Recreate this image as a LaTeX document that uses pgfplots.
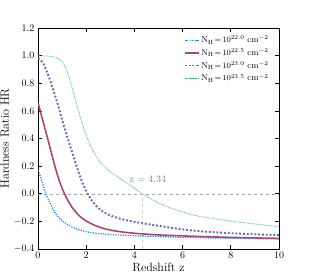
\documentclass[border=0pt]{standalone}
\usepackage{pgfplots}
\pgfplotsset{compat=1.18}
\definecolor{cblue}{HTML}{1E8CE0}
\definecolor{cmag}{HTML}{A8487A}
\definecolor{cpur}{HTML}{6C64B4}
\definecolor{cteal}{HTML}{40B0A0}
\begin{document}
\begin{tikzpicture}
\begin{axis}[
  scale only axis, width=241pt, height=221pt,
  xmin=0, xmax=10, ymin=-0.4, ymax=1.2,
  xtick={0,2,4,6,8,10}, ytick={-0.4,-0.2,0,0.2,0.4,0.6,0.8,1.0,1.2},
  yticklabel style={/pgf/number format/.cd, fixed, fixed zerofill, precision=1},
  tick align=inside, major tick length=4pt, minor tick num=0,
  axis line style={line width=0.8pt},
  tick style={line width=0.7pt, black},
  xlabel={\large Redshift z}, ylabel={\large Hardness Ratio HR},
  xlabel style={yshift=3pt}, ylabel style={yshift=-2pt},
  legend style={draw=none, fill=none, at={(0.97,0.978)}, anchor=north east,
    font=\fontsize{8.5}{10}\selectfont, row sep=0.5pt, inner sep=1pt},
  legend cell align=left,
  legend image post style={xscale=0.8},
]
\addplot[gray!70, dashed, line width=0.5pt, forget plot] coordinates {(0,0) (10,0)};
\addplot[gray!40, dashed, line width=0.8pt, forget plot] coordinates {(4.34,-0.4) (4.34,0)};
\addplot[cblue, line width=1.3pt, dash pattern=on 1.2pt off 1.3pt, smooth] coordinates {
(0,0.17) (0.15,0.10) (0.33,0.0) (0.55,-0.085) (0.75,-0.147) (1.0,-0.195) (1.3,-0.23) (1.6,-0.255) (2.0,-0.275) (2.5,-0.288) (3.0,-0.295) (4.0,-0.304) (5.0,-0.31) (6.0,-0.315) (7.0,-0.319) (8.5,-0.323) (10,-0.327)};
\addlegendentry{N$_{\rm H}\!=\!10^{22.0}$\ cm$^{-2}$}
\addplot[cmag, line width=1.6pt, smooth] coordinates {
(0,0.66) (0.2,0.53) (0.4,0.40) (0.6,0.265) (0.8,0.14) (1.0,0.04) (1.2,-0.035) (1.4,-0.095) (1.7,-0.158) (2.0,-0.197) (2.4,-0.232) (2.8,-0.255) (3.3,-0.272) (4.0,-0.286) (5.0,-0.298) (6.0,-0.305) (7.0,-0.311) (8.5,-0.318) (10,-0.323)};
\addlegendentry{N$_{\rm H}\!=\!10^{22.5}$\ cm$^{-2}$}
\addplot[cpur, line width=1.9pt, dash pattern=on 1.9pt off 1.9pt, smooth] coordinates {
(0,0.98) (0.2,0.95) (0.4,0.87) (0.6,0.77) (0.8,0.66) (1.0,0.535) (1.2,0.42) (1.4,0.31) (1.6,0.20) (1.8,0.10) (2.0,0.02) (2.2,-0.04) (2.4,-0.085) (2.6,-0.118) (2.8,-0.14) (3.0,-0.157) (3.5,-0.185) (4.0,-0.203) (4.5,-0.218) (5.0,-0.232) (6.0,-0.258) (7.0,-0.275) (8.5,-0.29) (10,-0.30)};
\addlegendentry{N$_{\rm H}\!=\!10^{23.0}$\ cm$^{-2}$}
\addplot[cteal, line width=0.9pt, dash pattern=on 0.5pt off 0.8pt, smooth] coordinates {
(0,1.0) (0.4,0.997) (0.7,0.99) (0.85,0.98) (1.0,0.958) (1.1,0.93) (1.2,0.89) (1.3,0.838) (1.4,0.777) (1.5,0.712) (1.6,0.648) (1.8,0.527) (2.0,0.423) (2.2,0.34) (2.4,0.275) (2.6,0.225) (2.8,0.19) (3.0,0.16) (3.25,0.128) (3.5,0.098) (3.75,0.069) (4.0,0.04) (4.34,0.0) (4.5,-0.018) (5.0,-0.066) (5.5,-0.103) (6.0,-0.132) (6.5,-0.156) (7.0,-0.172) (7.5,-0.186) (8.0,-0.198) (8.5,-0.209) (9.0,-0.219) (9.5,-0.229) (10,-0.238)};
\addlegendentry{N$_{\rm H}\!=\!10^{23.5}$\ cm$^{-2}$}
\node[gray, anchor=center, font=\normalsize] at (axis cs:4.56,0.105) {z = 4.34};
\end{axis}
\pgfresetboundingbox
\path ([shift={(-38pt,-30pt)}]current axis.south west) rectangle ([shift={(31pt,28pt)}]current axis.north east);
\end{tikzpicture}
\end{document}
